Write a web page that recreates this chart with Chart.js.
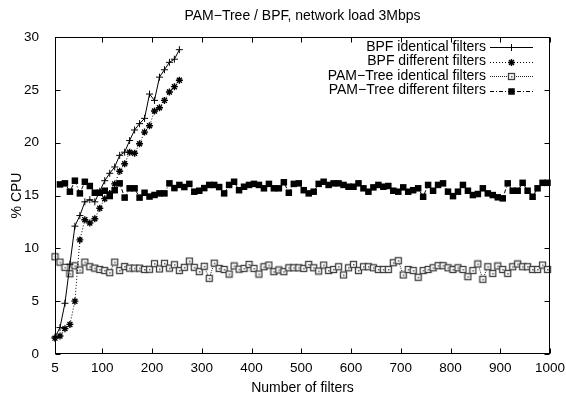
<!DOCTYPE html>
<html>
<head>
<meta charset="utf-8">
<script src="https://cdn.jsdelivr.net/npm/chart.js@4/dist/chart.umd.min.js"></script>
<style>
  html, body { margin: 0; padding: 0; background: #fff; }
  #c { display: block; }
</style>
</head>
<body>
<canvas id="c" width="566" height="400"></canvas>
<script>
// ---------- data ----------
const titleText = "PAM\u2212Tree / BPF, network load 3Mbps";
const xTitle = "Number of filters";
const yTitle = "% CPU";
const seriesNames = ["BPF identical filters", "BPF different filters", "PAM\u2212Tree identical filters", "PAM\u2212Tree different filters"];

const xTickValues = [5, 100, 200, 300, 400, 500, 600, 700, 800, 900, 1000];
const yTickValues = [0, 5, 10, 15, 20, 25, 30];

const bpfX = [5, 15, 25, 35, 45, 55, 65, 75, 85, 95, 105, 115, 125, 135, 145, 155, 165, 175, 185, 195, 205, 215, 225, 235, 245, 255];
const bpfIdentical = [1.6, 2.5, 4.8, 8.5, 12.1, 13.1, 14.4, 14.6, 14.4, 15.4, 16.4, 17.1, 17.7, 18.8, 19.1, 20.2, 21.2, 21.8, 22.3, 24.6, 24.0, 26.2, 26.9, 27.6, 27.9, 28.8];
const bpfDifferent = [1.5, 1.7, 2.4, 2.8, 5.0, 10.8, 12.7, 12.4, 12.8, 13.8, 14.7, 15.2, 16.1, 17.3, 18.0, 19.1, 19.0, 19.9, 21.0, 21.6, 23.0, 23.3, 24.0, 24.8, 25.3, 25.9];

const pamIdenticalX = [5, 15, 25, 35, 45, 55, 65, 75, 85, 95, 105, 115, 125, 135, 145, 155, 165, 175, 185, 195,
  205, 215, 225, 235, 245, 255, 265, 275, 285, 295, 305, 315, 325, 335, 345, 355, 365, 375, 385, 395,
  405, 415, 425, 435, 445, 455, 465, 475, 485, 495, 505, 515, 525, 535, 545, 555, 565, 575, 585, 595,
  605, 615, 625, 635, 645, 655, 665, 675, 685, 695, 705, 715, 725, 735, 745, 755, 765, 775, 785, 795,
  805, 815, 825, 835, 845, 855, 865, 875, 885, 895, 905, 915, 925, 935, 945, 955, 965, 975, 985, 995];
const pamIdentical = [9.2, 8.7, 8.2, 7.6, 8.35, 7.95, 8.7, 8.26, 8.13, 8.0, 7.9, 7.7, 8.7, 7.9, 8.28, 8.13, 8.13, 8.13, 8.0, 8.02,
  8.55, 8.05, 8.58, 8.13, 8.45, 7.9, 8.2, 8.8, 8.2, 7.8, 8.3, 7.16, 8.6, 8.1, 8.0, 7.57, 8.33, 8.03, 8.1, 8.48,
  8.1, 7.57, 8.26, 8.42, 7.79, 7.95, 7.79, 8.16, 8.16, 8.16, 8.1, 8.48, 8.16, 7.85, 8.42, 7.9, 8.0, 8.26, 7.48, 8.16,
  8.48, 7.9, 8.26, 8.26, 8.16, 8.0, 8.0, 8.0, 8.64, 8.83, 7.48, 8.0, 7.9, 7.26, 7.9, 8.0, 8.16, 8.36, 8.36, 8.16,
  8.0, 8.16, 8.0, 7.32, 7.9, 8.52, 7.07, 8.26, 7.63, 8.33, 8.0, 7.63, 8.26, 8.52, 8.26, 8.26, 8.0, 8.0, 8.42, 8.0];

const pamDifferentX = [15, 25, 35, 45, 55, 65, 75, 85, 95, 105, 115, 125, 135, 145, 155, 165, 175, 185, 195,
  205, 215, 225, 235, 245, 255, 265, 275, 285, 295, 305, 315, 325, 335, 345, 355, 365, 375, 385, 395,
  405, 415, 425, 435, 445, 455, 465, 475, 485, 495, 505, 515, 525, 535, 545, 555, 565, 575, 585, 595,
  605, 615, 625, 635, 645, 655, 665, 675, 685, 695, 705, 715, 725, 735, 745, 755, 765, 775, 785, 795,
  805, 815, 825, 835, 845, 855, 865, 875, 885, 895, 905, 915, 925, 935, 945, 955, 965, 975, 985, 995];
const pamDifferent = [16.05, 16.15, 15.36, 16.4, 15.2, 16.3, 15.9, 15.26, 15.26, 15.45, 14.95, 15.5, 16.15, 14.8, 15.68, 15.68, 14.8, 15.26, 14.9,
  15.05, 15.2, 15.2, 16.15, 15.7, 16.0, 15.8, 16.1, 15.36, 15.45, 15.7, 16.0, 16.0, 15.8, 15.2, 16.0, 16.3, 15.5, 15.83, 16.0,
  16.1, 16.0, 15.68, 16.1, 15.68, 15.68, 16.25, 15.26, 16.1, 16.15, 15.5, 15.2, 15.36, 16.1, 16.3, 16.0, 16.15, 16.15, 16.0, 15.83,
  15.83, 16.15, 15.68, 15.36, 15.77, 16.0, 15.83, 15.9, 15.45, 15.36, 15.77, 15.36, 15.5, 15.68, 14.88, 16.0, 15.45, 16.0, 16.15, 15.36,
  14.94, 15.36, 16.0, 15.45, 15.04, 15.14, 15.68, 15.2, 15.04, 14.83, 14.73, 16.15, 15.45, 15.45, 16.2, 15.45, 14.88, 15.68, 16.2, 16.2];

// ---------- helpers ----------
const FONT = "'Liberation Sans', Arial, Helvetica, sans-serif";
function toPoints(xs, ys) { return ys.map((y, i) => ({ x: xs[i], y: y })); }

// open square with center dot (gnuplot style)
const openSquare = document.createElement('canvas');
openSquare.width = 9; openSquare.height = 9;
(function () {
  const g = openSquare.getContext('2d');
  g.fillStyle = '#fff';
  g.fillRect(1, 1, 7, 7);
  g.strokeStyle = '#404040';
  g.lineWidth = 1.3;
  g.strokeRect(1.5, 1.5, 6, 6);
  g.fillStyle = '#555';
  g.fillRect(4, 4, 1.5, 1.5);
})();

const datasets = [
  {
    label: seriesNames[0], data: toPoints(bpfX, bpfIdentical),
    borderColor: '#000', backgroundColor: '#000', borderWidth: 1,
    pointStyle: 'cross', pointRadius: 3.5, pointBorderWidth: 1, borderDash: [],
  },
  {
    label: seriesNames[1], data: toPoints(bpfX, bpfDifferent),
    borderColor: '#000', backgroundColor: '#000', borderWidth: 1,
    pointStyle: 'star', pointRadius: 3.5, pointBorderWidth: 1.4, borderDash: [1, 2],
  },
  {
    label: seriesNames[2], data: toPoints(pamIdenticalX, pamIdentical),
    borderColor: '#222', backgroundColor: '#222', borderWidth: 1,
    pointStyle: openSquare, pointRadius: 4, pointBorderWidth: 1, borderDash: [1, 1],
  },
  {
    label: seriesNames[3], data: toPoints(pamDifferentX, pamDifferent),
    borderColor: '#000', backgroundColor: '#000', borderWidth: 1,
    pointStyle: 'rect', pointRadius: 4.6, pointBorderWidth: 0, borderDash: [4, 2, 1, 2],
  },
];
datasets.forEach(d => { d.tension = 0; d.fill = false; d.clip = false; d.pointBackgroundColor = d.backgroundColor; d.pointBorderColor = d.borderColor; });

// ---------- decoration plugin (gnuplot look) ----------
const decor = {
  id: 'decor',
  afterDraw(chart) {
    const { ctx, chartArea: a, scales } = chart;
    const L = Math.round(a.left) + 0.5, R = Math.round(a.right) - 0.5;
    const T = Math.round(a.top) + 0.5, B = Math.round(a.bottom) - 0.5;
    ctx.save();
    ctx.strokeStyle = '#000';
    ctx.lineWidth = 1;
    ctx.setLineDash([]);
    ctx.strokeRect(L, T, R - L, B - T);
    // inward ticks
    ctx.beginPath();
    xTickValues.forEach(v => {
      const x = Math.round(scales.x.getPixelForValue(v)) + 0.5;
      ctx.moveTo(x, B); ctx.lineTo(x, B - 5);
      ctx.moveTo(x, T); ctx.lineTo(x, T + 5);
    });
    yTickValues.forEach(v => {
      const y = Math.round(scales.y.getPixelForValue(v)) + 0.5;
      ctx.moveTo(L, y); ctx.lineTo(L + 5, y);
      ctx.moveTo(R, y); ctx.lineTo(R - 5, y);
    });
    ctx.stroke();

    // title and axis titles
    ctx.fillStyle = '#000';
    ctx.font = '14px ' + FONT;
    ctx.textAlign = 'center';
    ctx.textBaseline = 'middle';
    ctx.fillText(titleText, (a.left + a.right) / 2, 16);
    ctx.fillText(xTitle, (a.left + a.right) / 2, 388);
    ctx.save();
    ctx.translate(17, (a.top + a.bottom) / 2);
    ctx.rotate(-Math.PI / 2);
    ctx.fillText(yTitle, 0, 0);
    ctx.restore();

    // legend
    const rowY = [47, 61.5, 76, 90.5];
    const textRight = 486, sx0 = 490, sx1 = 533, mx = 511.5;
    chart.data.datasets.forEach((ds, i) => {
      const y = rowY[i];
      ctx.fillStyle = '#000';
      ctx.textAlign = 'right';
      ctx.fillText(ds.label, textRight, y);
      ctx.beginPath();
      ctx.strokeStyle = ds.borderColor;
      ctx.lineWidth = ds.borderWidth;
      ctx.setLineDash(ds.borderDash || []);
      ctx.moveTo(sx0, Math.round(y) + 0.5);
      ctx.lineTo(sx1, Math.round(y) + 0.5);
      ctx.stroke();
      ctx.setLineDash([]);
      ctx.strokeStyle = ds.borderColor;
      ctx.fillStyle = ds.backgroundColor;
      ctx.lineWidth = ds.pointBorderWidth;
      const opts = { pointStyle: ds.pointStyle, radius: ds.pointRadius, rotation: 0, borderWidth: ds.pointBorderWidth };
      if (Chart.helpers && Chart.helpers.drawPoint) {
        Chart.helpers.drawPoint(ctx, opts, mx, Math.round(y) + 0.5);
      }
    });
    ctx.restore();
  }
};

new Chart(document.getElementById('c'), {
  type: 'line',
  data: { datasets },
  options: {
    responsive: false,
    animation: false,
    devicePixelRatio: 1,
    layout: { padding: { top: 37, right: 16, left: 0, bottom: 0 } },
    plugins: { legend: { display: false }, title: { display: false }, tooltip: { enabled: false } },
    scales: {
      x: {
        type: 'linear', min: 5, max: 1000,
        grid: { display: false }, border: { display: false },
        afterBuildTicks: s => { s.ticks = xTickValues.map(v => ({ value: v })); },
        afterFit: s => { s.height = 46; },
        ticks: { color: '#000', padding: -2, maxRotation: 0, autoSkip: false, font: { family: FONT, size: 13.5 },
          callback: v => String(v) },
      },
      y: {
        type: 'linear', min: 0, max: 30,
        grid: { display: false }, border: { display: false },
        afterBuildTicks: s => { s.ticks = yTickValues.map(v => ({ value: v })); },
        afterFit: s => { s.width = 55; },
        ticks: { color: '#000', padding: 8, font: { family: FONT, size: 13.5 }, callback: v => String(v) },
      },
    },
  },
  plugins: [decor],
});
</script>
</body>
</html>
